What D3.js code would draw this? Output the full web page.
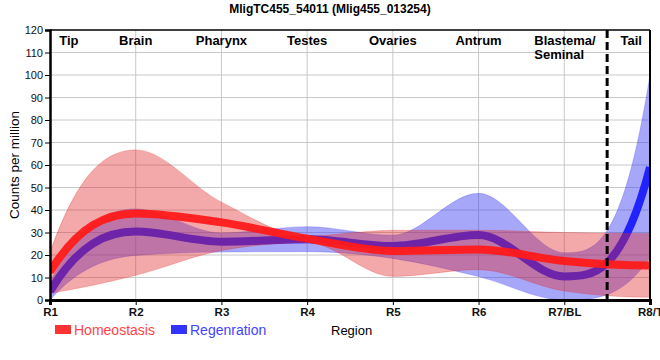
<!DOCTYPE html>
<html>
<head>
<meta charset="utf-8">
<script src="https://cdn.jsdelivr.net/npm/d3@7"></script>
<style>
  body { margin: 0; background: #fff; }
  text { font-family: "Liberation Sans", Arial, sans-serif; }
</style>
</head>
<body>
<svg id="chart"></svg>
<script>
// chart size
const width = 660;
const height = 360;
const margin = { top: 30, right: 10, bottom: 60, left: 50 };

// data
const categories = ["R1", "R2", "R3", "R4", "R5", "R6", "R7/BL", "R8/T"];
const regions = ["Tip", "Brain", "Pharynx", "Testes", "Ovaries", "Antrum", "Blastema/|Seminal", "Tail"];
const yTicks = [0, 10, 20, 30, 40, 50, 60, 70, 80, 90, 100, 110, 120];

const homeoMean  = [12.5, 38.5, 34.5, 27.3, 21.8, 22.5, 17.3, 15.3];
const homeoUpper = [21, 66.7, 43.5, 28.5, 31, 31, 30, 29.5];
const homeoLower = [3, 11, 22, 25.5, 10.5, 13.5, 4, 1.2];

const regenMean  = [3.8, 30.4, 25.9, 27, 24, 28.9, 10.5, 59];
const regenUpper = [7.5, 40.5, 29.8, 32.6, 28.8, 47.4, 21, 100];
const regenLower = [0, 19.8, 21.3, 21.5, 18.5, 10.4, 0, 19];

// monotone cubic (same as d3.curveMonotoneX inside), but with steeper
// end tangents so the ends bend like the reference
const kLeft = 2.4, kRight = 3;

function sign(v) { return v < 0 ? -1 : 1; }
function slope3(that, x2, y2) {
    const h0 = that._x1 - that._x0, h1 = x2 - that._x1,
        s0 = (that._y1 - that._y0) / (h0 || h1 < 0 && -0),
        s1 = (y2 - that._y1) / (h1 || h0 < 0 && -0),
        p = (s0 * h1 + s1 * h0) / (h0 + h1);
    return (sign(s0) + sign(s1)) * Math.min(Math.abs(s0), Math.abs(s1), 0.5 * Math.abs(p)) || 0;
}
function endSlope(that, t, endX) {
    const h = that._x1 - that._x0;
    if (!h) return t;
    const s = (that._y1 - that._y0) / h;
    const k = endX < (that._x0 + that._x1) / 2 ? kLeft : kRight;
    let v = k * s - (k - 1) * t;
    if (v * s < 0) v = 0;
    if (Math.abs(v) > 3 * Math.abs(s)) v = 3 * s;
    return v;
}
function hermite(that, t0, t1) {
    const x0 = that._x0, y0 = that._y0, x1 = that._x1, y1 = that._y1, dx = (x1 - x0) / 3;
    that._context.bezierCurveTo(x0 + dx, y0 + dx * t0, x1 - dx, y1 - dx * t1, x1, y1);
}
function SmoothEnds(context) { this._context = context; }
SmoothEnds.prototype = {
    areaStart() { this._line = 0; },
    areaEnd() { this._line = NaN; },
    lineStart() {
        this._x0 = this._x1 = this._y0 = this._y1 = this._t0 = NaN;
        this._point = 0;
    },
    lineEnd() {
        switch (this._point) {
            case 2: this._context.lineTo(this._x1, this._y1); break;
            case 3: hermite(this, this._t0, endSlope(this, this._t0, this._x1)); break;
        }
        if (this._line || (this._line !== 0 && this._point === 1)) this._context.closePath();
        this._line = 1 - this._line;
    },
    point(px, py) {
        let t1 = NaN;
        if (px === this._x1 && py === this._y1) return;
        switch (this._point) {
            case 0:
                this._point = 1;
                this._line ? this._context.lineTo(px, py) : this._context.moveTo(px, py);
                break;
            case 1: this._point = 2; break;
            case 2:
                this._point = 3;
                t1 = slope3(this, px, py);
                hermite(this, endSlope(this, t1, this._x0), t1);
                break;
            default:
                hermite(this, this._t0, t1 = slope3(this, px, py));
                break;
        }
        this._x0 = this._x1; this._x1 = px;
        this._y0 = this._y1; this._y1 = py;
        this._t0 = t1;
    }
};
const curve = context => new SmoothEnds(context);

const svg = d3.select("#chart")
    .attr("width", width)
    .attr("height", height);

const x = d3.scaleLinear()
    .domain([0, categories.length - 1])
    .range([margin.left, width - margin.right]);

const y = d3.scaleLinear()
    .domain([0, 120])
    .range([height - margin.bottom, margin.top]);

// title
svg.append("text")
    .attr("x", 330)
    .attr("y", 13)
    .attr("text-anchor", "middle")
    .attr("font-size", 12)
    .attr("font-weight", "bold")
    .text("MligTC455_54011 (Mlig455_013254)");

// grid
svg.append("g")
    .selectAll("line")
    .data(yTicks.filter(d => d > 0 && d < 120))
    .enter().append("line")
    .attr("x1", x(0)).attr("x2", x(7))
    .attr("y1", d => y(d)).attr("y2", d => y(d))
    .attr("stroke", "#c8c8c8");

svg.append("g")
    .selectAll("line")
    .data(d3.range(1, 7))
    .enter().append("line")
    .attr("x1", d => x(d)).attr("x2", d => x(d))
    .attr("y1", y(0)).attr("y2", y(120))
    .attr("stroke", "#c8c8c8");

// clip to plot area
svg.append("clipPath").attr("id", "clip")
    .append("rect")
    .attr("x", x(0)).attr("y", y(120))
    .attr("width", x(7) - x(0)).attr("height", y(0) - y(120));

const plot = svg.append("g").attr("clip-path", "url(#clip)");

function band(lower, upper) {
    return d3.area()
        .x((d, i) => x(i))
        .y0((d, i) => y(lower[i]))
        .y1((d, i) => y(upper[i]))
        .curve(curve)(categories);
}
const line = d3.line()
    .x((d, i) => x(i))
    .y(d => y(d))
    .curve(curve);

// regeneration first, homeostasis on top
plot.append("path")
    .attr("d", band(regenLower, regenUpper))
    .attr("fill", "rgb(60,60,245)")
    .attr("fill-opacity", 0.45)
    .attr("stroke", "rgb(60,60,245)")
    .attr("stroke-opacity", 0.25);

plot.append("path")
    .attr("d", line(regenMean))
    .attr("fill", "none")
    .attr("stroke", "#2222ff")
    .attr("stroke-width", 8);

plot.append("path")
    .attr("d", band(homeoLower, homeoUpper))
    .attr("fill", "rgb(225,40,40)")
    .attr("fill-opacity", 0.4)
    .attr("stroke", "rgb(225,40,40)")
    .attr("stroke-opacity", 0.25);

plot.append("path")
    .attr("d", line(homeoMean))
    .attr("fill", "none")
    .attr("stroke", "#ff1a1a")
    .attr("stroke-opacity", 0.95)
    .attr("stroke-width", 8);

// dashed separator between R7 and R8
svg.append("line")
    .attr("x1", x(6.5)).attr("x2", x(6.5))
    .attr("y1", y(120)).attr("y2", y(0))
    .attr("stroke", "#000")
    .attr("stroke-width", 3)
    .attr("stroke-dasharray", "8,4");

// frame top / right
svg.append("line")
    .attr("x1", x(0)).attr("x2", x(7))
    .attr("y1", y(120)).attr("y2", y(120))
    .attr("stroke", "#000").attr("stroke-width", 1.5);
svg.append("line")
    .attr("x1", x(7)).attr("x2", x(7))
    .attr("y1", y(120)).attr("y2", y(0))
    .attr("stroke", "#000").attr("stroke-width", 2);

// axes
const yAxis = svg.append("g")
    .attr("transform", `translate(${x(0)},0)`)
    .call(d3.axisLeft(y).tickValues(yTicks).tickSize(5).tickPadding(2));
yAxis.select(".domain").attr("stroke-width", 2.5);
yAxis.selectAll("text")
    .attr("font-size", 11)
    .attr("fill", "#111")
    .style("font-family", "Liberation Sans, Arial, sans-serif");

const xAxis = svg.append("g")
    .attr("transform", `translate(0,${y(0)})`)
    .call(d3.axisBottom(x).tickValues(d3.range(categories.length))
        .tickFormat(i => categories[i]).tickSize(5).tickPadding(3));
xAxis.select(".domain").attr("stroke-width", 3);
xAxis.selectAll("text")
    .attr("font-size", 11.5)
    .attr("font-weight", "bold")
    .attr("fill", "#111")
    .style("font-family", "Liberation Sans, Arial, sans-serif");

// region names along the top
const regionAt = [0.22, 1, 2, 3, 4, 5, 5.65, 6.78];
regions.forEach((name, i) => {
    const lines = name.split("|");
    const t = svg.append("text")
        .attr("x", x(regionAt[i]))
        .attr("y", 45)
        .attr("text-anchor", lines.length > 1 ? "start" : "middle")
        .attr("font-size", 13)
        .attr("font-weight", "bold");
    lines.forEach((s, j) => {
        t.append("tspan")
            .attr("x", x(regionAt[i]))
            .attr("dy", j ? 14 : 0)
            .text(s);
    });
});

// axis titles
svg.append("text")
    .attr("transform", `translate(19,${(y(0) + y(120)) / 2}) rotate(-90)`)
    .attr("text-anchor", "middle")
    .attr("font-size", 13.5)
    .text("Counts per million");

svg.append("text")
    .attr("x", 331)
    .attr("y", 335)
    .attr("font-size", 13)
    .text("Region");

// legend
const legend = [
    { name: "Homeostasis", color: "#ff3333", text: "#ff4444" },
    { name: "Regenration", color: "#3333ff", text: "#4444ff" }
];
const legendX = [55, 171];
legend.forEach((d, i) => {
    svg.append("rect")
        .attr("x", legendX[i]).attr("y", 325)
        .attr("width", 16).attr("height", 9)
        .attr("fill", d.color);
    svg.append("text")
        .attr("x", legendX[i] + 19).attr("y", 335)
        .attr("font-size", 14)
        .attr("fill", d.text)
        .text(d.name);
});
</script>
</body>
</html>
